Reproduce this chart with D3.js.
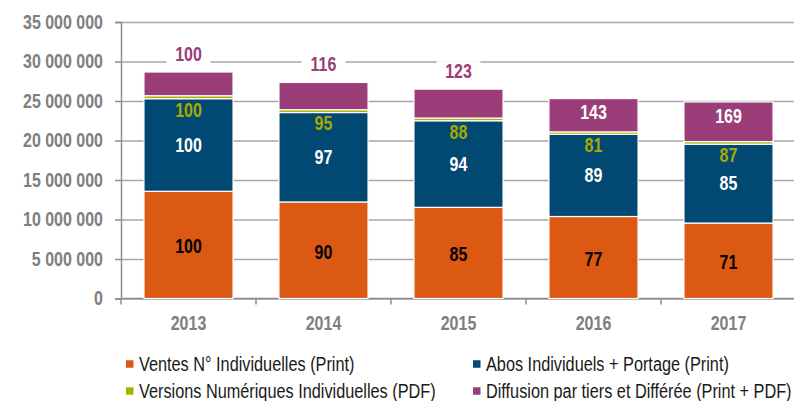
<!DOCTYPE html>
<html>
<head>
<meta charset="utf-8">
<script src="https://d3js.org/d3.v7.min.js"></script>
<style>
  body { margin: 0; background: #ffffff; }
  text { font-family: "Liberation Sans", Arial, sans-serif; }
</style>
</head>
<body>
<div id="my_dataviz"></div>
<script>

// years on the X axis
var years = ["2013", "2014", "2015", "2016", "2017"];

// series values (copies)
var ventes    = [13570000, 12220000, 11540000, 10380000, 9550000];
var abos      = [11720000, 11320000, 10960000, 10400000, 9980000];
var numerique = [380000, 360000, 340000, 310000, 330000];
var diffusion = [3000000, 3450000, 3660000, 4220000, 5020000];

// index labels (base 100 = 2013)
var idxVentes    = [100, 90, 85, 77, 71];
var idxAbos      = [100, 97, 94, 89, 85];
var idxNumerique = [100, 95, 88, 81, 87];
var idxDiffusion = [100, 116, 123, 143, 169];

var seriesNames = [
  "Ventes N° Individuelles (Print)",
  "Abos Individuels + Portage (Print)",
  "Versions Numériques Individuelles (PDF)",
  "Diffusion par tiers et Différée (Print + PDF)"
];

var yTicks = [0, 5000000, 10000000, 15000000, 20000000, 25000000, 30000000, 35000000];

var colors = ["#dc5914", "#014872", "#a9b300", "#9b3d78"];

var W = 794, H = 401;
var mLeft = 121, mRight = 796, mTop = 22, mBottom = 298.5;

// squeeze text horizontally around its anchor (no narrow font installed)
function narrow(sel, k) {
  sel.each(function() {
    var t = d3.select(this);
    var x0 = +t.attr("x") || 0;
    t.attr("transform", "translate(" + x0 + ",0) scale(" + k + ",1) translate(" + (-x0) + ",0)");
  });
}

var svg = d3.select("#my_dataviz")
  .append("svg")
    .attr("width", W)
    .attr("height", H);

// table for the stack
var table = years.map(function(yr, i) {
  return { year: yr, ventes: ventes[i], abos: abos[i], numerique: numerique[i], diffusion: diffusion[i] };
});
var keys = ["ventes", "abos", "numerique", "diffusion"];
var stacked = d3.stack().keys(keys)(table);

var x = d3.scaleBand()
  .domain(years)
  .range([mLeft, mRight])
  .paddingInner(0.34)
  .paddingOuter(0.17);

var y = d3.scaleLinear()
  .domain([0, 35000000])
  .range([mBottom, mTop]);

var fmt = function(d) { return d3.format(",")(d).replace(/,/g, " "); };

// gridlines
var grid = svg.append("g")
  .attr("transform", "translate(" + mLeft + ",0)")
  .call(d3.axisLeft(y).tickValues(yTicks).tickSize(-(W - mLeft)).tickFormat(""));
grid.select(".domain").remove();
grid.selectAll("line").attr("stroke", "#a6a6a6").attr("stroke-width", 1.5);

// y axis
var yAxis = svg.append("g")
  .attr("transform", "translate(" + mLeft + ",0)")
  .call(d3.axisLeft(y).tickValues(yTicks).tickSize(6).tickPadding(12).tickFormat(fmt));
yAxis.select(".domain").attr("stroke", "#8c8c8c").attr("stroke-width", 1.5);
yAxis.selectAll("line").attr("stroke", "#8c8c8c").attr("stroke-width", 1.5);
yAxis.selectAll("text")
  .attr("fill", "#808080")
  .style("font-size", "19.5px")
  .style("font-weight", "bold")
  .call(narrow, 0.82);

// x axis
var xAxis = svg.append("g")
  .attr("transform", "translate(0," + mBottom + ")")
  .call(d3.axisBottom(x).tickSize(0).tickPadding(18));
xAxis.select(".domain").attr("stroke", "#8c8c8c").attr("stroke-width", 1.5)
  .attr("d", "M" + mLeft + ",0H" + W);
xAxis.selectAll("text")
  .attr("fill", "#808080")
  .style("font-size", "19.5px")
  .style("font-weight", "bold")
  .call(narrow, 0.82);

// category boundary ticks
var bounds = years.map(function(d) { return x(d) - x.step() * x.paddingInner() / 2; });
bounds.push(x(years[years.length - 1]) + x.bandwidth() + x.step() * x.paddingInner() / 2);
svg.append("g").selectAll("line")
  .data(bounds)
  .enter().append("line")
    .attr("x1", function(d) { return d; })
    .attr("x2", function(d) { return d; })
    .attr("y1", mBottom)
    .attr("y2", mBottom + 6)
    .attr("stroke", "#8c8c8c")
    .attr("stroke-width", 1.5);

// bars
svg.append("g")
  .selectAll("g")
  .data(stacked)
  .enter().append("g")
    .attr("fill", function(d, i) { return colors[i]; })
  .selectAll("rect")
  .data(function(d) { return d; })
  .enter().append("rect")
    .attr("x", function(d) { return x(d.data.year); })
    .attr("y", function(d) { return y(d[1]); })
    .attr("width", x.bandwidth())
    .attr("height", function(d) { return y(d[0]) - y(d[1]); })
    .attr("stroke", "#ffffff")
    .attr("stroke-width", 1.2);

// labels
var labels = svg.append("g")
  .style("font-size", "19.5px")
  .style("font-weight", "bold")
  .attr("text-anchor", "middle");

years.forEach(function(yr, i) {
  var cx = x(yr) + x.bandwidth() / 2;
  var s0 = stacked[0][i], s1 = stacked[1][i], s3 = stacked[3][i];

  labels.append("text")
    .attr("x", cx)
    .attr("y", (y(s0[0]) + y(s0[1])) / 2 + 1.5)
    .attr("dy", "0.35em")
    .attr("fill", "#000000")
    .text(idxVentes[i]);

  labels.append("text")
    .attr("x", cx)
    .attr("y", (y(s1[0]) + y(s1[1])) / 2)
    .attr("dy", "0.35em")
    .attr("fill", "#ffffff")
    .text(idxAbos[i]);

  labels.append("text")
    .attr("x", cx)
    .attr("y", y(s1[1]) + 11)
    .attr("dy", "0.35em")
    .attr("fill", "#a8a800")
    .text(idxNumerique[i]);

  var pinkH = y(s3[0]) - y(s3[1]);
  if (pinkH > 32) {
    labels.append("text")
      .attr("x", cx)
      .attr("y", y(s3[1]) + 14)
      .attr("dy", "0.35em")
      .attr("fill", "#ffffff")
      .text(idxDiffusion[i]);
  } else {
    var ly = y(s3[1]) - 18;
    labels.append("rect")
      .attr("x", cx - 22)
      .attr("y", ly - 10)
      .attr("width", 44)
      .attr("height", 20)
      .attr("fill", "#ffffff");
    labels.append("text")
      .attr("x", cx)
      .attr("y", ly)
      .attr("dy", "0.35em")
      .attr("fill", "#9b3d78")
      .text(idxDiffusion[i]);
  }
});
labels.selectAll("text").call(narrow, 0.82);

// legend
var legPos = [[126, 364], [473, 364], [126, 391], [473, 391]];
var legend = svg.append("g");
seriesNames.forEach(function(name, i) {
  var g = legend.append("g")
    .attr("transform", "translate(" + legPos[i][0] + "," + legPos[i][1] + ")");
  g.append("rect")
    .attr("x", 0)
    .attr("y", -3.75)
    .attr("width", 7.5)
    .attr("height", 7.5)
    .attr("fill", colors[i]);
  g.append("text")
    .attr("x", 13)
    .attr("y", 0)
    .attr("dy", "0.35em")
    .attr("fill", "#1a1a1a")
    .style("font-size", "19.5px")
    .text(name)
    .call(narrow, 0.835);
});

</script>
</body>
</html>
